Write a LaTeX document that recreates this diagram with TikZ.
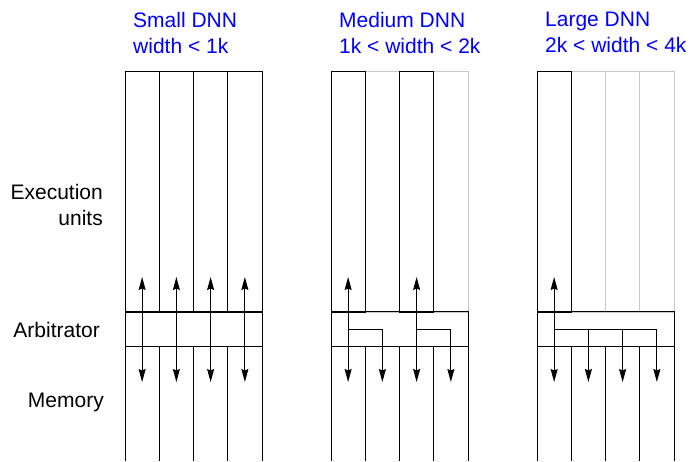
\documentclass[tikz,border=0pt]{standalone}
\usepackage{fontspec}
\setmainfont{Liberation Sans}
\usetikzlibrary{arrows.meta}
\colorlet{title colour}{blue}
\colorlet{idle colour}{black!22}
\tikzset{
    % Long, narrow heads for the data paths
    >={Stealth[length=13pt, width=7pt, inset=1.5pt]},
%
    % Lines of the execution units, busy and idle
    unit/.style={draw=black, line width=1pt},
    idle unit/.style={draw=idle colour, line width=1pt},
    link/.style={line width=1pt},
    % Text
    title/.style={text=title colour, align=left, inner sep=0pt},
    row label/.style={anchor=east, align=right, inner sep=0pt},
}

\begin{document}
\begin{tikzpicture}[
    x=1pt, y=1pt,
    font=\fontsize{21}{26}\selectfont,
    arbiter/.style={unit, anchor=south west, inner sep=0pt,
        minimum width=137pt, minimum height=34.5pt},
]
\useasboundingbox (0,0) rectangle (690,461);
\def\colw{34.25}

% row names on the left
\node [row label] (exec) at (103,256) {Execution\\units};
\node [row label] (arb) at (100,131) {Arbitrator};
\node [row label] (mem) at (104,59) {Memory};

% one block per network size: x, name, busy columns, columns per unit
\foreach \gx/\size/\busy/\ways/\range in {
    125/Small/{0,1,2,3}/1/{width < 1k},
    331/Medium/{0,2}/2/{1k < width < 2k},
    537/Large/{0}/4/{2k < width < 4k}}
{
    \node [title, anchor=north west] (title-\size) at (\gx+8,449)
        {\size\ DNN\\\range};

    % execution units
    \foreach \c in {0,...,3}
        \draw [idle unit] ({\gx+\c*\colw},149) rectangle ++(\colw,240);
    \foreach \c in \busy
        \draw [unit] ({\gx+\c*\colw},149) rectangle ++(\colw,240);

    % memory banks
    \foreach \c in {0,...,4}
        \draw [unit] ({\gx+\c*\colw},0) -- ++(0,114.5);

    \node [arbiter] (arb-\size) at (\gx,114.5) {};

    % data paths through the arbitrator
    \pgfmathtruncatemacro\last{\ways-1}
    \foreach \a in \busy {
        \coordinate (up-\size-\a) at ({\gx+(\a+0.5)*\colw},184);
        \coordinate (dn-\size-\a) at ({\gx+(\a+0.5)*\colw},79);
        \draw [link, <->] (dn-\size-\a) -- (up-\size-\a);
        \ifnum\ways>1
            \foreach \k in {1,...,\last}
                \draw [link, ->] ({\gx+(\a+0.5)*\colw},132)
                    -| ({\gx+(\a+\k+0.5)*\colw},79);
        \fi
    }
}

\end{tikzpicture}
\end{document}
